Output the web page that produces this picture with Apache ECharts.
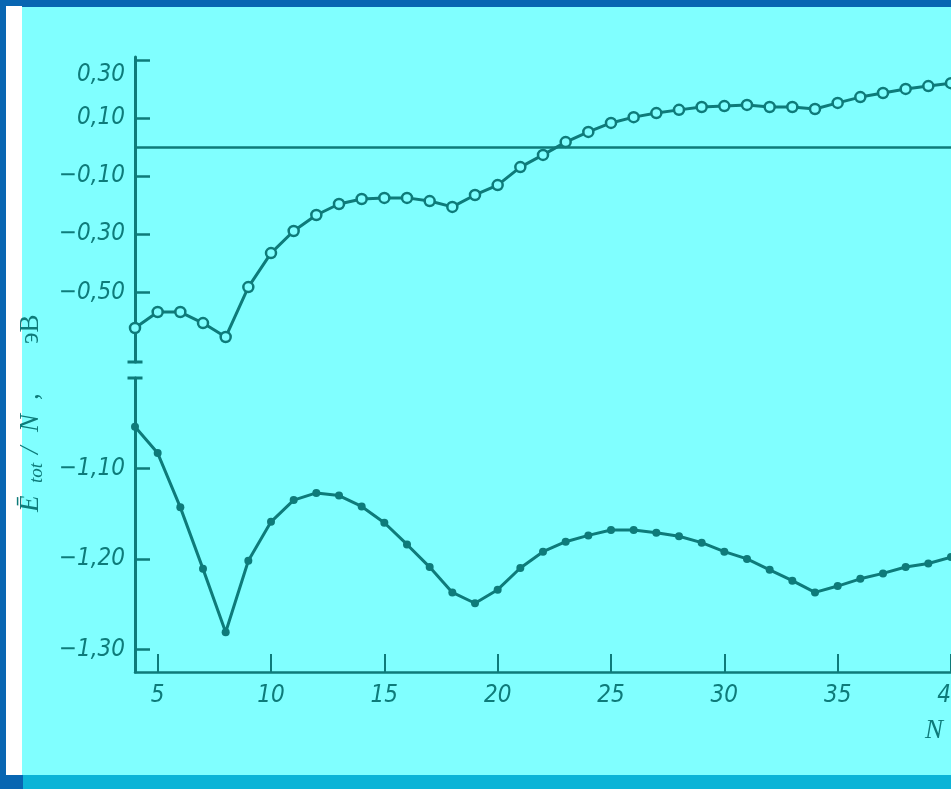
<!DOCTYPE html>
<html>
<head>
<meta charset="utf-8">
<script src="https://cdn.jsdelivr.net/npm/echarts@6/dist/echarts.min.js"></script>
<style>
  html, body { margin: 0; padding: 0; width: 951px; height: 789px; overflow: hidden; background: #0866b2; }
  .strip { position: absolute; left: 6px; top: 6px; width: 16px; height: 769px; background: #ffffff; }
  .paper { position: absolute; left: 22px; top: 7px; right: 0; height: 768px; background: #80ffff; }
  .band { position: absolute; left: 23px; top: 775px; right: 0; height: 14px; background: #0bb4d7; }
  #chart { position: absolute; left: 0; top: 0; width: 951px; height: 789px; }
</style>
</head>
<body>
<div class="strip"></div>
<div class="paper"></div>
<div class="band"></div>
<div id="chart"></div>
<script>
// Cluster size N
const clusterSize = [4, 5, 6, 7, 8, 9, 10, 11, 12, 13, 14, 15, 16, 17, 18, 19, 20, 21, 22,
  23, 24, 25, 26, 27, 28, 29, 30, 31, 32, 33, 34, 35, 36, 37, 38, 39, 40];

// Upper curve (open circles), eV per atom
const energyOpen = [-0.623, -0.568, -0.568, -0.606, -0.654, -0.482, -0.365, -0.289, -0.234,
  -0.196, -0.179, -0.175, -0.175, -0.186, -0.206, -0.165, -0.131, -0.069, -0.027,
  0.017, 0.052, 0.083, 0.103, 0.117, 0.128, 0.138, 0.141, 0.145, 0.138, 0.138, 0.131,
  0.152, 0.172, 0.186, 0.200, 0.210, 0.220];

// Lower curve (filled dots), eV per atom
const energyFilled = [-1.054, -1.083, -1.143, -1.211, -1.281, -1.202, -1.159, -1.135, -1.127,
  -1.130, -1.142, -1.160, -1.184, -1.209, -1.237, -1.249, -1.234, -1.210, -1.192,
  -1.181, -1.174, -1.168, -1.168, -1.171, -1.175, -1.182, -1.192, -1.200, -1.212,
  -1.224, -1.237, -1.230, -1.222, -1.216, -1.209, -1.205, -1.198];

// Tick values
const xTicks = [5, 10, 15, 20, 25, 30, 35, 40];
const upperTicks = [0.30, 0.10, -0.10, -0.30, -0.50];
const lowerTicks = [-1.10, -1.20, -1.30];

const ink = '#0e7b7a';
const paper = '#80ffff';
const tickFont = "'Liberation Sans Narrow','DejaVu Sans Condensed','Liberation Sans',sans-serif";
const serif = "'Liberation Serif','DejaVu Serif',serif";

function fmt(v) {
  const s = Math.abs(v).toFixed(2).replace('.', ',');
  return (v < 0 ? '\u2212' : '') + s;
}

const labelStyle = {
  color: ink, fontFamily: tickFont, fontStyle: 'italic', fontSize: 24
};

const chart = echarts.init(document.getElementById('chart'), null, { renderer: 'canvas' });

chart.setOption({
  animation: false,
  backgroundColor: 'transparent',
  grid: [
    { left: 135, right: 0, top: 57, height: 305, outerBoundsMode: 'none', containLabel: false },
    { left: 135, right: 0, top: 378, height: 294, outerBoundsMode: 'none', containLabel: false }
  ],
  xAxis: [
    {
      type: 'value', gridIndex: 0, min: 4, max: 40,
      axisLine: { show: false }, axisTick: { show: false },
      axisLabel: { show: false }, splitLine: { show: false }
    },
    {
      type: 'value', gridIndex: 1, min: 4, max: 40,
      axisLine: { lineStyle: { color: ink, width: 2.5 } },
      axisTick: { inside: true, length: 18, customValues: xTicks, lineStyle: { color: ink, width: 2 } },
      axisLabel: Object.assign({ margin: 12, customValues: xTicks, hideOverlap: false, formatter: v => String(v) }, labelStyle),
      splitLine: { show: false }
    }
  ],
  yAxis: [
    {
      type: 'value', gridIndex: 0, min: -0.74, max: 0.31,
      axisLine: {
        show: true, symbol: ['rect', 'none'], symbolSize: [15, 3],
        lineStyle: { color: ink, width: 3 }
      },
      axisTick: { inside: true, length: 15, customValues: upperTicks, lineStyle: { color: ink, width: 2.5 } },
      axisLabel: Object.assign({
        margin: 10, customValues: upperTicks,
        formatter: v => Math.abs(v - 0.30) < 1e-9 ? '{low|' + fmt(v) + '}' : fmt(v),
        rich: {
          low: { padding: [30, 0, 0, 0], color: ink, fontFamily: tickFont, fontStyle: 'italic', fontSize: 24 }
        }
      }, labelStyle),
      splitLine: { show: false }
    },
    {
      type: 'value', gridIndex: 1, min: -1.325, max: -1.00,
      axisLine: {
        show: true, symbol: ['none', 'rect'], symbolSize: [15, 3],
        lineStyle: { color: ink, width: 3 }
      },
      axisTick: { inside: true, length: 15, customValues: lowerTicks, lineStyle: { color: ink, width: 2.5 } },
      axisLabel: Object.assign({ margin: 10, customValues: lowerTicks, formatter: fmt }, labelStyle),
      splitLine: { show: false }
    }
  ],
  series: [
    {
      type: 'line', xAxisIndex: 0, yAxisIndex: 0,
      data: clusterSize.map((n, i) => [n, energyOpen[i]]),
      symbol: 'circle', symbolSize: 10,
      itemStyle: { color: paper, borderColor: ink, borderWidth: 2.5 },
      lineStyle: { color: ink, width: 3 },
      markLine: {
        silent: true, symbol: 'none', label: { show: false },
        lineStyle: { color: ink, width: 2.5, type: 'solid' },
        data: [{ yAxis: 0 }]
      },
      z: 3
    },
    {
      type: 'line', xAxisIndex: 1, yAxisIndex: 1,
      data: clusterSize.map((n, i) => [n, energyFilled[i]]),
      symbol: 'circle', symbolSize: 8,
      itemStyle: { color: ink },
      lineStyle: { color: ink, width: 3 },
      z: 3
    }
  ],
  graphic: [
    {
      type: 'group', x: 44, y: 512, rotation: Math.PI / 2,
      children: [
        { type: 'text', x: 0, y: 0, style: { text: '\u0112', font: 'italic 27px ' + serif, fill: ink, verticalAlign: 'bottom' } },
        { type: 'text', x: 29, y: 2, style: { text: 'tot', font: 'italic 19px ' + serif, fill: ink, verticalAlign: 'bottom' } },
        { type: 'text', x: 58, y: 0, style: { text: '/', font: 'italic 27px ' + serif, fill: ink, verticalAlign: 'bottom' } },
        { type: 'text', x: 80, y: 0, style: { text: 'N', font: 'italic 27px ' + serif, fill: ink, verticalAlign: 'bottom' } },
        { type: 'text', x: 112, y: 0, style: { text: ',', font: 'italic 27px ' + serif, fill: ink, verticalAlign: 'bottom' } },
        { type: 'text', x: 168, y: 0, style: { text: '\u044dВ', font: '27px ' + serif, fill: ink, verticalAlign: 'bottom' } }
      ]
    },
    {
      type: 'text', x: 925, y: 717,
      style: { text: 'N', font: 'italic 27px ' + serif, fill: ink }
    }
  ]
});
</script>
</body>
</html>
